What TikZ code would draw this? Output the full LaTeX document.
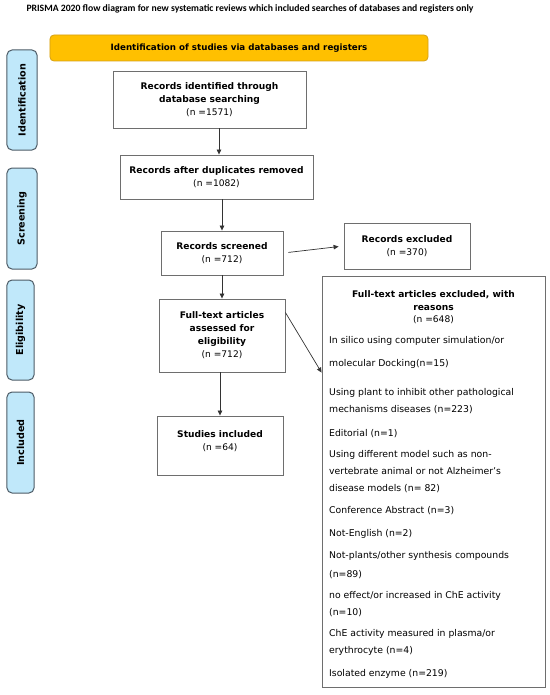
\documentclass[tikz,border=0pt]{standalone}
\usepackage{fontspec}
\setmainfont{DejaVu Sans}
\newfontfamily\titlefont{Carlito}
\usetikzlibrary{arrows.meta}
\definecolor{sideblue}{HTML}{C0E8FA}
\definecolor{sideedge}{HTML}{4D5B66}
\definecolor{bannerfill}{HTML}{FFC000}
\definecolor{banneredge}{HTML}{D4A017}
\definecolor{boxedge}{HTML}{6E6E6E}
\tikzset{
  flowbox/.style={draw=boxedge, line width=0.9bp, fill=white, align=center, inner sep=2bp,
    font=\fontsize{9.1bp}{13bp}\selectfont},
  sidebox/.style={draw=sideedge, line width=1bp, fill=sideblue, rounded corners=5bp,
    rotate=90, font=\fontsize{9.6bp}{11bp}\selectfont\bfseries, inner sep=0bp},
  arr/.style={-{Triangle[length=5bp,width=4.5bp]}, line width=0.7bp, black!80},
}
\begin{document}
\begin{tikzpicture}[x=1bp,y=-1bp]
\useasboundingbox (0,0) rectangle (550,695);
% title
\node[font=\titlefont\fontsize{9.7bp}{11bp}\selectfont\bfseries, anchor=west] (title) at (23,9)
  {PRISMA 2020 flow diagram for new systematic reviews which included searches of databases and registers only};
% banner
\node[draw=banneredge, line width=0.8bp, fill=bannerfill, rounded corners=4bp,
  minimum width=378bp, minimum height=26bp, font=\fontsize{8.7bp}{10bp}\selectfont\bfseries] (banner) at (239,48)
  {Identification of studies via databases and registers};
% side labels
\node[sidebox, minimum width=100bp, minimum height=30bp] (sid) at (22,100) {Identification};
\node[sidebox, minimum width=101bp, minimum height=30bp] (ssc) at (22,218.5) {Screening};
\node[sidebox, minimum width=100bp, minimum height=27bp] (sel) at (20.5,330) {Eligibility};
\node[sidebox, minimum width=101bp, minimum height=27bp] (sin) at (20.5,442.5) {Included};
% main boxes
\node[flowbox, minimum width=193bp, minimum height=57bp] (b1) at (209.5,99.5)
  {\textbf{Records identified through}\\\textbf{database searching}\\(n =1571)};
\node[flowbox, minimum width=193bp, minimum height=44bp] (b2) at (216.5,177)
  {\textbf{Records after duplicates removed}\\(n =1082)};
\node[flowbox, minimum width=122bp, minimum height=44bp] (b3) at (222,253)
  {\textbf{Records screened}\\(n =712)};
\node[flowbox, minimum width=126bp, minimum height=73bp] (b4) at (222,335.5)
  {\textbf{Full-text articles}\\\textbf{assessed for}\\\textbf{eligibility}\\(n =712)};
\node[flowbox, minimum width=126bp, minimum height=59bp, text depth=9bp] (b5) at (220,445.5)
  {\textbf{Studies included}\\(n =64)};
\node[flowbox, minimum width=126bp, minimum height=46bp] (e1) at (407,246)
  {\textbf{Records excluded}\\(n =370)};
\node[flowbox, minimum width=223bp, minimum height=411bp] (e2) at (433.5,481.5) {};
\node[align=center, inner sep=0bp, anchor=north, font=\fontsize{9.1bp}{12.5bp}\selectfont] (e2head) at (433.5,290.5)
  {\textbf{Full-text articles excluded, with}\\\textbf{reasons}\\(n =648)};
\node[align=left, inner sep=0bp, anchor=north west, font=\fontsize{9.3bp}{17bp}\selectfont] (e2list) at (329,336.5)
  {In silico using computer simulation/or\\[6bp]
   molecular Docking(n=15)\\[12bp]
   Using plant to inhibit other pathological\\
   mechanisms diseases (n=223)\\[7bp]
   Editorial (n=1)\\[4bp]
   Using different model such as non-\\
   vertebrate animal or not Alzheimer's\\
   disease models (n= 82)\\[5bp]
   Conference Abstract (n=3)\\[6bp]
   Not-English (n=2)\\[5bp]
   Not-plants/other synthesis compounds\\[1.5bp]
   (n=89)\\[4bp]
   no effect/or increased in ChE activity\\
   (n=10)\\[4bp]
   ChE activity measured in plasma/or\\
   erythrocyte (n=4)\\[6bp]
   Isolated enzyme (n=219)};
% arrows
\draw[arr] ([xshift=9.5bp]b1.south) -- ([xshift=9.5bp]b1.south |- b2.north);
\draw[arr] ([xshift=5.5bp]b2.south) -- ([xshift=5.5bp]b2.south |- b3.north);
\draw[arr] (b3.south) -- (b4.north);
\draw[arr] ([xshift=-2bp]b4.south) -- ([xshift=-2bp]b4.south |- b5.north);
\draw[arr, shorten <=5bp, shorten >=5bp] (b3.east) -- (e1.west);
\draw[arr] ([yshift=-14bp]b4.north east) -- ([yshift=-97bp]e2.north west);
\end{tikzpicture}
\end{document}
